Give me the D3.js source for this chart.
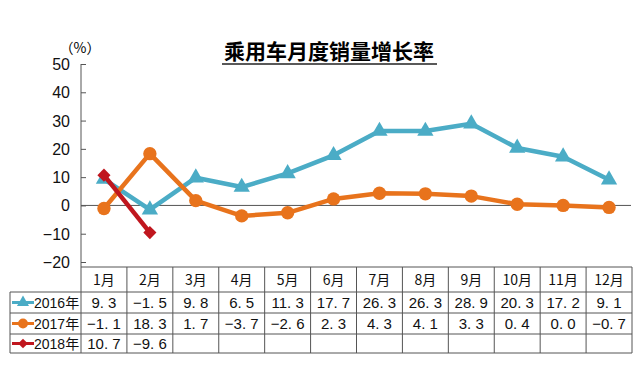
<!DOCTYPE html>
<html>
<head>
<meta charset="utf-8">
<script src="https://cdn.jsdelivr.net/npm/d3@7"></script>
<style>
  body { margin: 0; background: #fff; }
  svg { display: block; }
</style>
</head>
<body>
<svg id="chart" width="644" height="368"></svg>
<script>
const months = ["1月", "2月", "3月", "4月", "5月", "6月", "7月", "8月", "9月", "10月", "11月", "12月"]
const years = ["2016年", "2017年", "2018年"]
const v2016 = [9.3, -1.5, 9.8, 6.5, 11.3, 17.7, 26.3, 26.3, 28.9, 20.3, 17.2, 9.1]
const v2017 = [-1.1, 18.3, 1.7, -3.7, -2.6, 2.3, 4.3, 4.1, 3.3, 0.4, 0.0, -0.7]
const v2018 = [10.7, -9.6]
const yTicks = [-20, -10, 0, 10, 20, 30, 40, 50]

const series = [
    {name: years[0], values: v2016, color: "#4bacc6", symbol: d3.symbolTriangle, size: 115},
    {name: years[1], values: v2017, color: "#e8731c", symbol: d3.symbolCircle, size: 140},
    {name: years[2], values: v2018, color: "#c0161e", symbol: d3.symbolDiamond2, size: 110},
]

const svg = d3.select("#chart")

const x = d3.scaleBand().domain(months).range([81, 632])
const y = d3.scaleLinear().domain([-20, 50]).range([262, 64])

// title
svg.append("text")
    .attr("x", 329)
    .attr("y", 59)
    .attr("text-anchor", "middle")
    .style("font-family", "'Noto Sans CJK SC'")
    .style("font-weight", "bold")
    .style("font-size", "21px")
    .text("乘用车月度销量增长率")
svg.append("line")
    .attr("x1", 222).attr("x2", 437)
    .attr("y1", 64).attr("y2", 64)
    .style("stroke", "#222")
    .style("stroke-width", 1.5)

// unit
svg.append("text")
    .attr("x", 80)
    .attr("y", 53)
    .attr("text-anchor", "middle")
    .style("font-family", "'Noto Sans CJK SC'")
    .style("font-size", "14px")
    .text("（%）")

// y axis
const yAxis = svg.append("g")
    .attr("transform", "translate(81,0)")
    .call(d3.axisRight(y).tickValues(yTicks).tickSize(5).tickFormat(""))
yAxis.select(".domain").remove()
yAxis.selectAll("line").style("stroke", "#555")
svg.append("line")
    .attr("x1", 81).attr("x2", 81)
    .attr("y1", 64).attr("y2", 267)
    .style("stroke", "#555")

svg.append("g").selectAll("text")
    .data(yTicks)
    .join("text")
    .attr("x", 70)
    .attr("y", d => y(d) + 6)
    .attr("text-anchor", "end")
    .style("font-family", "'Liberation Sans', Arial")
    .style("font-size", "16px")
    .style("fill", "#111")
    .text(d => d < 0 ? "−" + Math.abs(d) : d)

// zero line
svg.append("line")
    .attr("x1", 81).attr("x2", 631)
    .attr("y1", y(0)).attr("y2", y(0))
    .style("stroke", "#555")
    .style("stroke-width", 1)

// lines + markers
const line = d3.line()
    .x((d, i) => x(months[i]) + x.bandwidth() / 2)
    .y(d => y(d))

series.forEach(s => {
    svg.append("path")
        .datum(s.values)
        .attr("d", line)
        .style("fill", "none")
        .style("stroke", s.color)
        .style("stroke-width", 4.5)
        .style("stroke-linejoin", "round")

    svg.append("g").selectAll("path")
        .data(s.values)
        .join("path")
        .attr("transform", (d, i) => `translate(${x(months[i]) + x.bandwidth() / 2},${y(d)})`)
        .attr("d", d3.symbol(s.symbol, s.size))
        .style("fill", s.color)
})

// data table
const rowTops = [267, 292, 313, 334, 353]
const tableLeft = 10
const tableRight = 632
const border = "#555"
const table = svg.append("g")

// horizontal lines
table.append("line")
    .attr("x1", 81).attr("x2", tableRight)
    .attr("y1", rowTops[0]).attr("y2", rowTops[0])
    .style("stroke", border)
rowTops.slice(1).forEach(t => {
    table.append("line")
        .attr("x1", tableLeft).attr("x2", tableRight)
        .attr("y1", t).attr("y2", t)
        .style("stroke", border)
})
// vertical lines
table.append("line")
    .attr("x1", tableLeft).attr("x2", tableLeft)
    .attr("y1", rowTops[1]).attr("y2", rowTops[4])
    .style("stroke", border)
months.forEach(m => {
    table.append("line")
        .attr("x1", x(m)).attr("x2", x(m))
        .attr("y1", rowTops[0]).attr("y2", rowTops[4])
        .style("stroke", border)
})
table.append("line")
    .attr("x1", tableRight).attr("x2", tableRight)
    .attr("y1", rowTops[0]).attr("y2", rowTops[4])
    .style("stroke", border)

// header
table.selectAll(".hdr")
    .data(months)
    .join("text")
    .attr("x", d => x(d) + x.bandwidth() / 2)
    .attr("y", (rowTops[0] + rowTops[1]) / 2 + 5)
    .attr("text-anchor", "middle")
    .style("font-family", "'Noto Sans CJK SC'")
    .style("font-size", "14px")
    .style("fill", "#111")
    .text(d => d)

const fmt = d => (d < 0 ? "−" : "") + Math.abs(d).toFixed(1).replace(".", ". ")

series.forEach((s, r) => {
    const cy = (rowTops[r + 1] + rowTops[r + 2]) / 2
    // legend key
    table.append("line")
        .attr("x1", 12).attr("x2", 34)
        .attr("y1", cy).attr("y2", cy)
        .style("stroke", s.color)
        .style("stroke-width", 3)
    table.append("path")
        .attr("transform", `translate(23,${cy})`)
        .attr("d", d3.symbol(s.symbol, s.size * 0.55))
        .style("fill", s.color)
    table.append("text")
        .attr("x", 34)
        .attr("y", cy + 5)
        .style("font-family", "'Liberation Sans', 'Noto Sans CJK SC'")
        .style("font-size", "14px")
        .style("fill", "#111")
        .text(s.name)

    table.append("g").selectAll("text")
        .data(s.values)
        .join("text")
        .attr("x", (d, i) => x(months[i]) + x.bandwidth() / 2)
        .attr("y", cy + 5.5)
        .attr("text-anchor", "middle")
        .style("font-family", "'Liberation Sans', Arial")
        .style("font-size", "15px")
        .style("fill", "#111")
        .style("white-space", "pre")
        .text(fmt)
})
</script>
</body>
</html>
